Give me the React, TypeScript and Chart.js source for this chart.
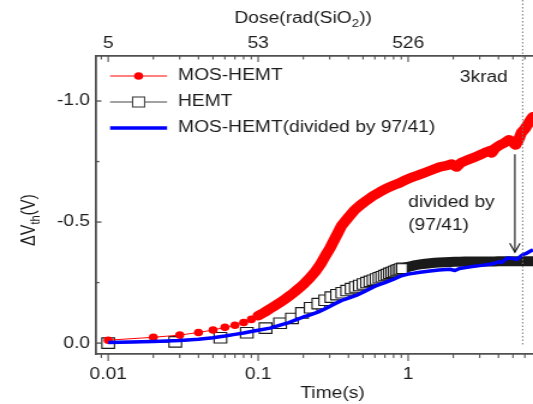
import React, { useEffect, useRef } from "react";
import { Chart, registerables } from "chart.js";

Chart.register(...registerables);

// ---------- data (ΔVth in volts, time in seconds) ----------
const redTime = [0.01, 0.02, 0.03, 0.04, 0.05, 0.06, 0.07, 0.08, 0.09, 0.1, 0.11, 0.12, 0.13, 0.14, 0.15, 0.16, 0.17, 0.18, 0.19, 0.2, 0.22, 0.24, 0.26, 0.28, 0.3, 0.33, 0.36, 0.4, 0.44, 0.48, 0.53, 0.58, 0.65, 0.72, 0.8, 0.88, 0.97, 1.07, 1.18, 1.3, 1.45, 1.63, 1.8, 1.95, 2.1, 2.25, 2.45, 2.7, 2.95, 3.2, 3.5, 3.6, 3.8, 4.1, 4.4, 4.7, 4.95, 5.2, 5.45, 5.7, 6.0, 6.3, 6.6, 6.8];
const redDv = [-0.012, -0.024, -0.033, -0.044, -0.054, -0.065, -0.074, -0.085, -0.098, -0.113, -0.127, -0.142, -0.155, -0.168, -0.18, -0.193, -0.205, -0.218, -0.23, -0.242, -0.268, -0.295, -0.325, -0.36, -0.39, -0.44, -0.485, -0.52, -0.55, -0.57, -0.59, -0.607, -0.625, -0.64, -0.652, -0.662, -0.675, -0.686, -0.695, -0.705, -0.716, -0.728, -0.733, -0.74, -0.727, -0.745, -0.755, -0.765, -0.775, -0.785, -0.795, -0.785, -0.805, -0.818, -0.828, -0.84, -0.832, -0.818, -0.84, -0.87, -0.885, -0.905, -0.925, -0.935];

const hemtTime = [0.01, 0.028, 0.056, 0.084, 0.112, 0.14, 0.168, 0.196, 0.224, 0.252, 0.28, 0.308, 0.336, 0.364, 0.392, 0.42, 0.448, 0.476, 0.504, 0.532, 0.56, 0.588, 0.616, 0.644, 0.672, 0.7, 0.728, 0.756, 0.784, 0.812, 0.84, 0.868, 0.896, 0.924, 0.952, 0.98, 1.05, 1.12, 1.2, 1.3, 1.4, 1.5, 1.6, 1.75, 1.9, 2.05, 2.2, 2.4, 2.6, 2.8, 3.0, 3.25, 3.5, 3.75, 4.0, 4.3, 4.6, 4.9, 5.2, 5.5, 5.8, 6.1, 6.4, 6.8];
const hemtDv = [0.0, -0.005, -0.022, -0.043, -0.062, -0.082, -0.102, -0.125, -0.146, -0.163, -0.177, -0.19, -0.2, -0.208, -0.217, -0.225, -0.232, -0.238, -0.244, -0.25, -0.255, -0.26, -0.265, -0.27, -0.274, -0.279, -0.283, -0.288, -0.292, -0.296, -0.3, -0.303, -0.306, -0.309, -0.312, -0.314, -0.318, -0.322, -0.325, -0.328, -0.33, -0.332, -0.333, -0.334, -0.335, -0.336, -0.336, -0.337, -0.337, -0.337, -0.337, -0.337, -0.337, -0.337, -0.338, -0.338, -0.338, -0.338, -0.338, -0.338, -0.338, -0.338, -0.338, -0.338];

const scaledTime = [0.01, 0.02, 0.03, 0.04, 0.05, 0.06, 0.07, 0.08, 0.09, 0.1, 0.12, 0.14, 0.16, 0.18, 0.2, 0.22, 0.25, 0.28, 0.32, 0.36, 0.4, 0.45, 0.5, 0.6, 0.7, 0.8, 0.9, 1.0, 1.2, 1.4, 1.6, 1.9, 2.05, 2.2, 2.6, 3.0, 3.5, 3.8, 4.0, 4.2, 4.6, 5.0, 5.3, 5.8, 6.2, 6.8];
const scaledDv = [-0.003, -0.007, -0.011, -0.016, -0.022, -0.029, -0.036, -0.042, -0.048, -0.053, -0.062, -0.074, -0.085, -0.097, -0.108, -0.116, -0.128, -0.142, -0.16, -0.176, -0.186, -0.197, -0.21, -0.235, -0.25, -0.264, -0.278, -0.285, -0.293, -0.298, -0.302, -0.305, -0.3, -0.308, -0.315, -0.32, -0.326, -0.33, -0.336, -0.333, -0.352, -0.35, -0.345, -0.365, -0.372, -0.386];

const seriesLabels = ["MOS-HEMT", "HEMT", "MOS-HEMT(divided by 97/41)"];
const timeTickValues = [0.01, 0.1, 1];
const timeTickLabels = ["0.01", "0.1", "1"];
const doseTickLabels = ["5", "53", "526"];
const dvTickValues = [-1, -0.5, 0];
const dvMinorTicks = [-0.75, -0.25];

const X_MIN = 0.0083;
const X_MAX = 6.8;
const Y_MIN = -1.186;
const Y_MAX = 0.045;
const MARK_TIME = 5.8; // 3 krad
const ARROW_TIME = 5.15;
const ARROW_FROM = -0.78;
const ARROW_TO = -0.375;

// ---------- look ----------
const SX = 1.2; // horizontal stretch of the picture
const CSS_W = 533;
const CSS_H = 404;
const W = Math.round(CSS_W / SX);
const FF = '"Liberation Sans", Arial, Helvetica, sans-serif';
const TEXT = "#1c1c1c";
const AXIS = "#505050";
const RED = "#ff0000";
const BLUE = "#0000ff";
const BLACK = "#1a1a1a";

const decor = {
  id: "decor",
  afterDraw(chart: any) {
    const ctx = chart.ctx as CanvasRenderingContext2D;
    const xs = chart.scales.x;
    const ys = chart.scales.y;
    const { left, top, bottom } = chart.chartArea;
    ctx.save();

    // tick marks
    ctx.strokeStyle = AXIS;
    const seg = (x1: number, y1: number, x2: number, y2: number) => {
      ctx.beginPath();
      ctx.moveTo(x1, y1);
      ctx.lineTo(x2, y2);
      ctx.stroke();
    };
    ctx.lineWidth = 1.1;
    for (let e = -3; e <= 1; e++) {
      for (let m = 1; m <= 9; m++) {
        const v = m * Math.pow(10, e);
        if (v < X_MIN || v > X_MAX) continue;
        const px = xs.getPixelForValue(v);
        const major = m === 1;
        seg(px, bottom, px, bottom + (major ? 7 : 4));
        seg(px, top, px, top + (major ? 6 : 3.5));
      }
    }
    ctx.lineWidth = 1.3;
    dvTickValues.forEach((v) => {
      const py = ys.getPixelForValue(v);
      seg(left, py, left + 4.5, py);
    });
    dvMinorTicks.forEach((v) => {
      const py = ys.getPixelForValue(v);
      seg(left, py, left + 2.8, py);
    });

    // dotted 3 krad marker
    const mx = xs.getPixelForValue(MARK_TIME);
    ctx.strokeStyle = "#7a7a7a";
    ctx.lineWidth = 1;
    ctx.setLineDash([1.5, 2]);
    seg(mx, 0, mx, 345);
    ctx.setLineDash([]);

    // arrow
    const ax = xs.getPixelForValue(ARROW_TIME);
    const ay1 = ys.getPixelForValue(ARROW_FROM);
    const ay2 = ys.getPixelForValue(ARROW_TO);
    ctx.strokeStyle = "#111";
    ctx.lineWidth = 1.1;
    seg(ax, ay1, ax, ay2);
    ctx.beginPath();
    ctx.moveTo(ax - 4.3, ay2 - 9);
    ctx.lineTo(ax, ay2);
    ctx.lineTo(ax + 4.3, ay2 - 9);
    ctx.stroke();

    // texts
    ctx.fillStyle = TEXT;
    ctx.textBaseline = "middle";
    ctx.font = `16px ${FF}`;
    ctx.textAlign = "right";
    ctx.fillText("3krad", 423, 78);
    ctx.textAlign = "left";
    ctx.fillText("divided by", 340, 203);
    ctx.fillText("(97/41)", 340, 226);

    // x title
    ctx.textAlign = "center";
    ctx.fillText("Time(s)", 277, 394);

    // top title with subscript
    {
      const a = "Dose(rad(SiO";
      const b = "2";
      const c = "))";
      ctx.font = `16px ${FF}`;
      const wa = ctx.measureText(a).width;
      const wc = ctx.measureText(c).width;
      ctx.font = `11px ${FF}`;
      const wb = ctx.measureText(b).width;
      const x0 = 252.5 - (wa + wb + wc) / 2;
      ctx.textAlign = "left";
      ctx.font = `16px ${FF}`;
      ctx.fillText(a, x0, 19);
      ctx.font = `11px ${FF}`;
      ctx.fillText(b, x0 + wa, 24);
      ctx.font = `16px ${FF}`;
      ctx.fillText(c, x0 + wa + wb, 19);
    }

    // y title rotated with subscript
    {
      ctx.save();
      ctx.translate(25, 220);
      ctx.rotate(-Math.PI / 2);
      const a = "ΔV";
      const b = "th";
      const c = "(V)";
      ctx.font = `16px ${FF}`;
      const wa = ctx.measureText(a).width;
      const wc = ctx.measureText(c).width;
      ctx.font = `11px ${FF}`;
      const wb = ctx.measureText(b).width;
      const x0 = -(wa + wb + wc) / 2;
      ctx.textAlign = "left";
      ctx.font = `16px ${FF}`;
      ctx.fillText(a, x0, 0);
      ctx.font = `11px ${FF}`;
      ctx.fillText(b, x0 + wa, 5);
      ctx.font = `16px ${FF}`;
      ctx.fillText(c, x0 + wa + wb, 0);
      ctx.restore();
    }

    // legend
    const lx1 = 91.7;
    const lx2 = 139.2;
    const lc = (lx1 + lx2) / 2;
    const tx = 148.3;
    const rows = [76, 102, 128];
    ctx.strokeStyle = RED;
    ctx.lineWidth = 1;
    seg(lx1, rows[0], lx2, rows[0]);
    ctx.fillStyle = RED;
    ctx.beginPath();
    ctx.arc(lc, rows[0], 3.8, 0, Math.PI * 2);
    ctx.fill();
    ctx.strokeStyle = "#444";
    ctx.lineWidth = 1;
    seg(lx1, rows[1], lc - 5, rows[1]);
    seg(lc + 5, rows[1], lx2, rows[1]);
    ctx.lineWidth = 1.1;
    ctx.fillStyle = "#fff";
    ctx.fillRect(lc - 5, rows[1] - 5, 10, 10);
    ctx.strokeRect(lc - 5, rows[1] - 5, 10, 10);
    ctx.strokeStyle = BLUE;
    ctx.lineWidth = 3.5;
    seg(lx1, rows[2], lx2, rows[2]);
    ctx.fillStyle = TEXT;
    ctx.font = `16px ${FF}`;
    ctx.textAlign = "left";
    ctx.textBaseline = "middle";
    seriesLabels.forEach((s, i) => ctx.fillText(s, tx, rows[i]));

    ctx.restore();
  },
};

export default function App() {
  const ref = useRef<HTMLCanvasElement | null>(null);

  useEffect(() => {
    if (!ref.current) return;
    const redData = redTime.map((t, i) => ({ x: t, y: redDv[i] }));
    const hemtData = hemtTime.map((t, i) => ({ x: t, y: hemtDv[i] }));
    const scaledData = scaledTime.map((t, i) => ({ x: t, y: scaledDv[i] }));
    const tickFont = { family: FF, size: 16 };

    const chart = new Chart(ref.current, {
      type: "line",
      data: {
        datasets: [
          {
            label: seriesLabels[2],
            data: scaledData,
            borderColor: BLUE,
            borderWidth: 3.5,
            pointRadius: 0,
            tension: 0,
            borderJoinStyle: "round",
          },
          {
            label: seriesLabels[0],
            data: redData,
            borderColor: RED,
            backgroundColor: RED,
            borderWidth: 1,
            pointRadius: 3.8,
            pointBorderWidth: 0,
            pointBackgroundColor: RED,
            borderJoinStyle: "round",
            borderCapStyle: "round",
            segment: {
              borderWidth: (c: any) => (redTime[c.p0DataIndex] >= 0.1 ? 9.5 : 1),
            },
          },
          {
            label: seriesLabels[1],
            data: hemtData,
            borderColor: BLACK,
            borderWidth: 1,
            pointStyle: "rect",
            pointRadius: (c: any) => (hemtTime[c.dataIndex] < 0.95 ? 7.4 : 0),
            pointBorderWidth: 1.1,
            pointBorderColor: BLACK,
            pointBackgroundColor: (c: any) => (hemtTime[c.dataIndex] < 0.9 ? "#ffffff" : "rgba(0,0,0,0)"),
            borderJoinStyle: "round",
            borderCapStyle: "round",
            segment: {
              borderWidth: (c: any) => (hemtTime[c.p0DataIndex] >= 0.9 ? 10 : 1),
            },
          },
        ],
      },
      options: {
        responsive: false,
        maintainAspectRatio: false,
        devicePixelRatio: 1,
        animation: false,
        events: [],
        layout: { padding: 0, autoPadding: false },
        plugins: { legend: { display: false }, tooltip: { enabled: false } },
        scales: {
          x: {
            type: "logarithmic",
            position: "bottom",
            min: X_MIN,
            max: X_MAX,
            grid: { display: false, drawTicks: false },
            border: { display: true, color: AXIS, width: 1.8 },
            afterBuildTicks: (s: any) => {
              s.ticks = timeTickValues.map((v) => ({ value: v }));
            },
            afterFit: (s: any) => {
              s.height = 50;
            },
            ticks: {
              autoSkip: false,
              maxRotation: 0,
              padding: 11,
              color: TEXT,
              font: tickFont,
              callback: (_v: any, i: number) => timeTickLabels[i],
            },
          },
          x2: {
            type: "logarithmic",
            position: "top",
            min: X_MIN,
            max: X_MAX,
            grid: { display: false, drawTicks: false },
            border: { display: true, color: AXIS, width: 1.8 },
            afterBuildTicks: (s: any) => {
              s.ticks = timeTickValues.map((v) => ({ value: v }));
            },
            afterFit: (s: any) => {
              s.height = 56;
            },
            ticks: {
              autoSkip: false,
              maxRotation: 0,
              padding: 3,
              color: TEXT,
              font: tickFont,
              callback: (_v: any, i: number) => doseTickLabels[i],
            },
          },
          y: {
            type: "linear",
            reverse: true,
            min: Y_MIN,
            max: Y_MAX,
            grid: { display: false, drawTicks: false },
            border: { display: true, color: AXIS, width: 1.8 },
            afterBuildTicks: (s: any) => {
              s.ticks = dvTickValues.map((v) => ({ value: v }));
            },
            afterFit: (s: any) => {
              s.width = 80;
            },
            ticks: {
              padding: 5,
              color: TEXT,
              font: tickFont,
              callback: (v: any) => Number(v).toFixed(1),
            },
          },
        },
      } as any,
      plugins: [decor],
    });
    return () => chart.destroy();
  }, []);

  return (
    <div style={{ position: "absolute", left: 0, top: 0, width: CSS_W, height: CSS_H, background: "#fff" }}>
      <canvas
        ref={ref}
        width={W}
        height={CSS_H}
        style={{ width: `${CSS_W}px`, height: `${CSS_H}px`, display: "block" }}
      />
    </div>
  );
}
